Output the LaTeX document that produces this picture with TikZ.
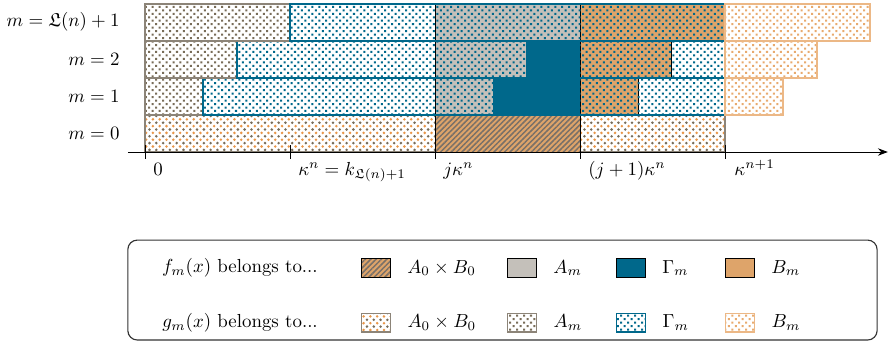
\documentclass[tikz,border=0pt]{standalone}
\usepackage{xcolor}
\usepackage{amsmath}
\usepackage{amssymb}
\usepackage{tikz}
\usetikzlibrary{arrows.meta, positioning, patterns.meta}
\definecolor{gammablue}{RGB}{0,104,139}
\definecolor{borange}{RGB}{222,164,106}
\definecolor{agray}{RGB}{196,192,186}
\definecolor{abrown}{RGB}{120,108,88}
\definecolor{aborder}{RGB}{140,132,120}
\definecolor{blight}{RGB}{236,184,134}
\definecolor{bdots}{RGB}{232,170,110}
\definecolor{dotorange}{RGB}{232,150,72}
\definecolor{hatchgray}{RGB}{120,112,104}

\tikzset{
  % f_m cells
  fAB/.style={preaction={fill=borange}, pattern={Lines[angle=45, distance=2pt, line width=0.8pt]}, pattern color=hatchgray, draw=black, line width=0.5pt},
  fA/.style={fill=agray, draw=black, line width=0.5pt},
  fG/.style={fill=gammablue, draw=gammablue, line width=0.5pt},
  fB/.style={fill=borange, draw=black, line width=0.5pt},
  % g_m cells
  gAB/.style={preaction={pattern={Dots[distance=3.6pt, radius=0.75pt]}, pattern color=abrown}, pattern={Dots[distance=3.6pt, radius=0.75pt, xshift=1.8pt, yshift=1.8pt]}, pattern color=dotorange, draw=aborder, line width=0.8pt},
  gA/.style={pattern={Dots[angle=45, distance=2.6pt, radius=0.75pt]}, pattern color=abrown, draw=aborder, line width=0.8pt},
  gG/.style={pattern={Dots[angle=45, distance=2.6pt, radius=0.75pt]}, pattern color=gammablue, draw=gammablue, line width=0.8pt},
  gB/.style={pattern={Dots[angle=45, distance=2.6pt, radius=0.75pt]}, pattern color=bdots, draw=blight, line width=0.8pt},
  swatch/.style={minimum width=0.54cm, minimum height=0.35cm, inner sep=0pt},
}

\begin{document}
\begin{tikzpicture}[>=Stealth]
    \useasboundingbox (-2.70,-3.63) rectangle (13.87,2.83);

    % f_m in the block [j k^n, (j+1) k^n]
    \draw[fA] (5.4, 0.69) rectangle (6.48, 1.38);
    \draw[fG] (6.48, 0.69) rectangle (8.1, 1.38);
    \draw[fB] (8.1, 0.69) rectangle (9.18, 1.38);
    \draw[fA] (5.4, 1.38) rectangle (7.11, 2.07);
    \draw[fG] (7.11, 1.38) rectangle (8.1, 2.07);
    \draw[fB] (8.1, 1.38) rectangle (9.81, 2.07);
    \draw[fA] (5.4, 2.07) rectangle (8.1, 2.76);
    \draw[fB] (8.1, 2.07) rectangle (10.8, 2.76);

    % Row m = 0
    \draw[gAB] (0, 0) rectangle (10.8, 0.69);
    \draw[fAB] (5.4, 0) rectangle (8.1, 0.69);

    % Row m = 1
    \draw[gA] (0, 0.69) rectangle (1.08, 1.38);
    \draw[gG] (1.08, 0.69) rectangle (10.8, 1.38);
    \draw[gB] (10.8, 0.69) rectangle (11.88, 1.38);

    % Row m = 2
    \draw[gA] (0, 1.38) rectangle (1.71, 2.07);
    \draw[gG] (1.71, 1.38) rectangle (10.8, 2.07);
    \draw[gB] (10.8, 1.38) rectangle (12.51, 2.07);

    % Row m = L(n)+1
    \draw[gA] (0, 2.07) rectangle (2.7, 2.76);
    \draw[gG] (2.7, 2.07) rectangle (10.8, 2.76);
    \draw[gB] (10.8, 2.07) rectangle (13.5, 2.76);

    % Row labels
    \node[anchor=east] (m0) at (-0.35, 0.345) {$m=0$};
    \node[anchor=east] (m1) at (-0.35, 1.035) {$m=1$};
    \node[anchor=east] (m2) at (-0.35, 1.725) {$m=2$};
    \node[anchor=east] (mL) at (-0.35, 2.43) {$m=\mathfrak{L}(n)+1$};

    % Axis
    \draw[->, line width=0.5pt] (-0.32, 0) -- (13.83, 0);
    \draw[line width=0.5pt] (0, 0.13) -- (0, -0.13);
    \draw[line width=0.5pt] (2.7, 0.13) -- (2.7, -0.13);
    \draw[line width=0.5pt] (5.4, 0.13) -- (5.4, -0.13);
    \draw[line width=0.5pt] (8.1, 0.13) -- (8.1, -0.13);
    \draw[line width=0.5pt] (10.8, 0.13) -- (10.8, -0.13);
    \node[anchor=base west] (x0) at (0.03, -0.43) {$0$};
    \node[anchor=base west] (x1) at (2.73, -0.43) {$\kappa^n=k_{\mathfrak{L}(n)+1}$};
    \node[anchor=base west] (x2) at (5.43, -0.43) {$j\kappa^n$};
    \node[anchor=base west] (x3) at (8.13, -0.43) {$(j+1)\kappa^n$};
    \node[anchor=base west] (x4) at (10.85, -0.43) {$\kappa^{n+1}$};

    % Legend
    \draw[rounded corners=5pt, line width=0.6pt, draw=black!80] (-0.32, -1.64) rectangle (13.63, -3.50);
    \node[anchor=east] (ftext) at (3.34, -2.16) {$f_m(x)$ belongs to...};
    \node[anchor=east] (gtext) at (3.34, -3.18) {$g_m(x)$ belongs to...};

    \node[swatch, fAB] (sfAB) at (4.30, -2.16) {};
    \node[swatch, fA] (sfA) at (7.02, -2.16) {};
    \node[swatch, fG, draw=black] (sfG) at (9.05, -2.16) {};
    \node[swatch, fB] (sfB) at (11.08, -2.16) {};
    \node[right=0.18cm of sfAB] (lfAB) {$A_0\times B_0$};
    \node[right=0.18cm of sfA] (lfA) {$A_m$};
    \node[right=0.18cm of sfG] (lfG) {$\Gamma_m$};
    \node[right=0.18cm of sfB] (lfB) {$B_m$};

    \node[swatch, gAB] (sgAB) at (4.30, -3.18) {};
    \node[swatch, gA] (sgA) at (7.02, -3.18) {};
    \node[swatch, gG] (sgG) at (9.05, -3.18) {};
    \node[swatch, gB] (sgB) at (11.08, -3.18) {};
    \node[right=0.18cm of sgAB] (lgAB) {$A_0\times B_0$};
    \node[right=0.18cm of sgA] (lgA) {$A_m$};
    \node[right=0.18cm of sgG] (lgG) {$\Gamma_m$};
    \node[right=0.18cm of sgB] (lgB) {$B_m$};
  \end{tikzpicture}
\end{document}
